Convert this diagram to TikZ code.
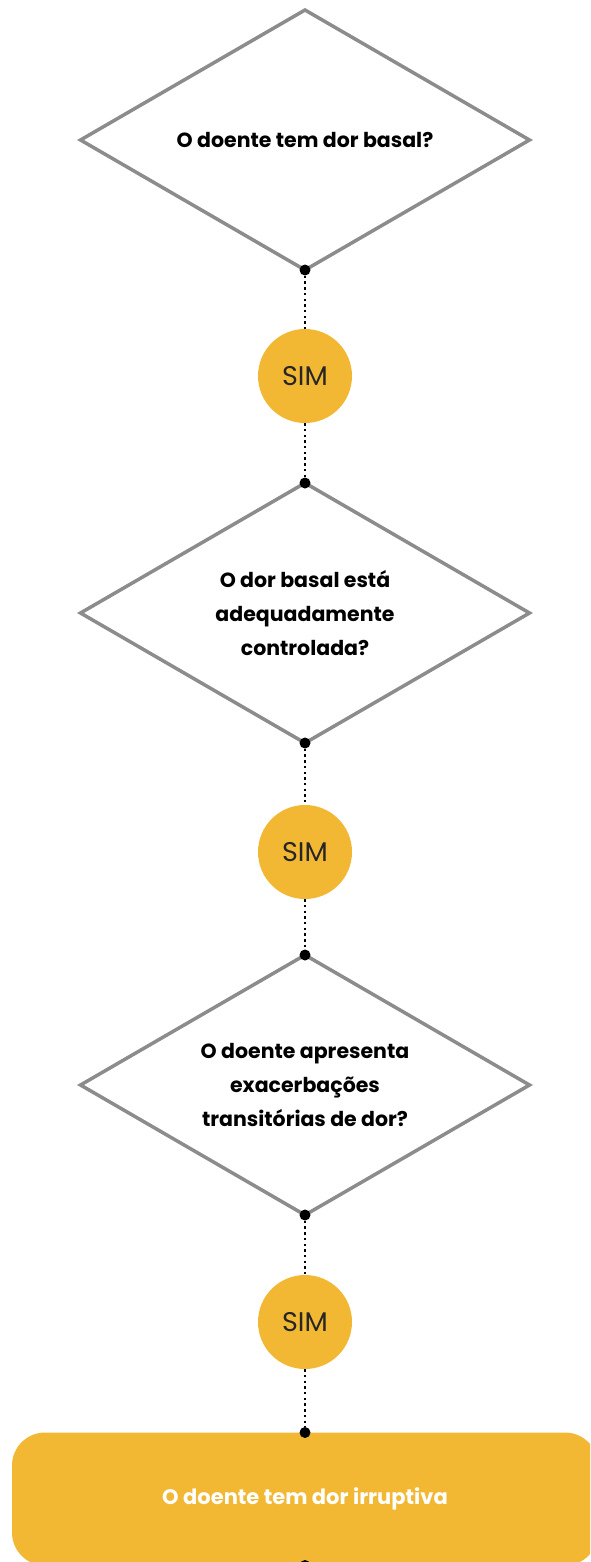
\documentclass[tikz,border=0pt]{standalone}
\usepackage{fontspec}
\setmainfont{Poppins}
\usetikzlibrary{shapes.geometric}
\definecolor{gold}{HTML}{F2B833}
\definecolor{edge}{HTML}{8C8C8C}
\begin{document}
\begin{tikzpicture}[x=1pt,y=-1pt,
 question/.style={diamond, draw=edge, line width=3.5pt, fill=white, minimum width=449pt, minimum height=260pt, inner sep=0pt, outer sep=0pt,
   label={[align=center, font=\fontsize{20.5}{34}\bfseries\selectfont, text=black]center:#1}},
 answer/.style={circle, fill=gold, minimum size=94pt, inner sep=0pt, text=black!85, font=\fontsize{27}{30}\selectfont},
 result/.style={rectangle, rounded corners=33pt, fill=gold, minimum width=586pt, minimum height=133pt, inner sep=0pt, outer sep=0pt, text=white, font=\fontsize{21}{24}\bfseries\selectfont},
 link/.style={line width=2.4pt, black, dash pattern=on 2.4pt off 3.3pt},
 pin/.style={circle, fill=black, minimum size=11pt, inner sep=0pt}]
\useasboundingbox (0,0) rectangle (590,1562);
\clip (0,0) rectangle (590,1562);
\node[question={O doente tem dor basal?}] (q1) at (305,140) {};
\node[answer] (a1) at (305,376) {SIM};
\node[question={O dor basal está\\adequadamente\\controlada?}] (q2) at (305,613) {};
\node[answer] (a2) at (305,852) {SIM};
\node[question={O doente apresenta\\exacerbações\\transitórias de dor?}] (q3) at (305,1085) {};
\node[answer] (a3) at (305,1322) {SIM};
\node[result] (r) at (305,1499) {O doente tem dor irruptiva};
\node[pin] (p1) at (q1.south) {};
\node[pin] (p2) at (q2.north) {};
\node[pin] (p3) at (q2.south) {};
\node[pin] (p4) at (q3.north) {};
\node[pin] (p5) at (q3.south) {};
\node[pin] (p6) at (r.north) {};
\node[pin] (p7) at (r.south) {};
\draw[link] (p1) -- (a1);
\draw[link] (a1) -- (p2);
\draw[link] (p3) -- (a2);
\draw[link] (a2) -- (p4);
\draw[link] (p5) -- (a3);
\draw[link] (a3) -- (p6);
\end{tikzpicture}
\end{document}
